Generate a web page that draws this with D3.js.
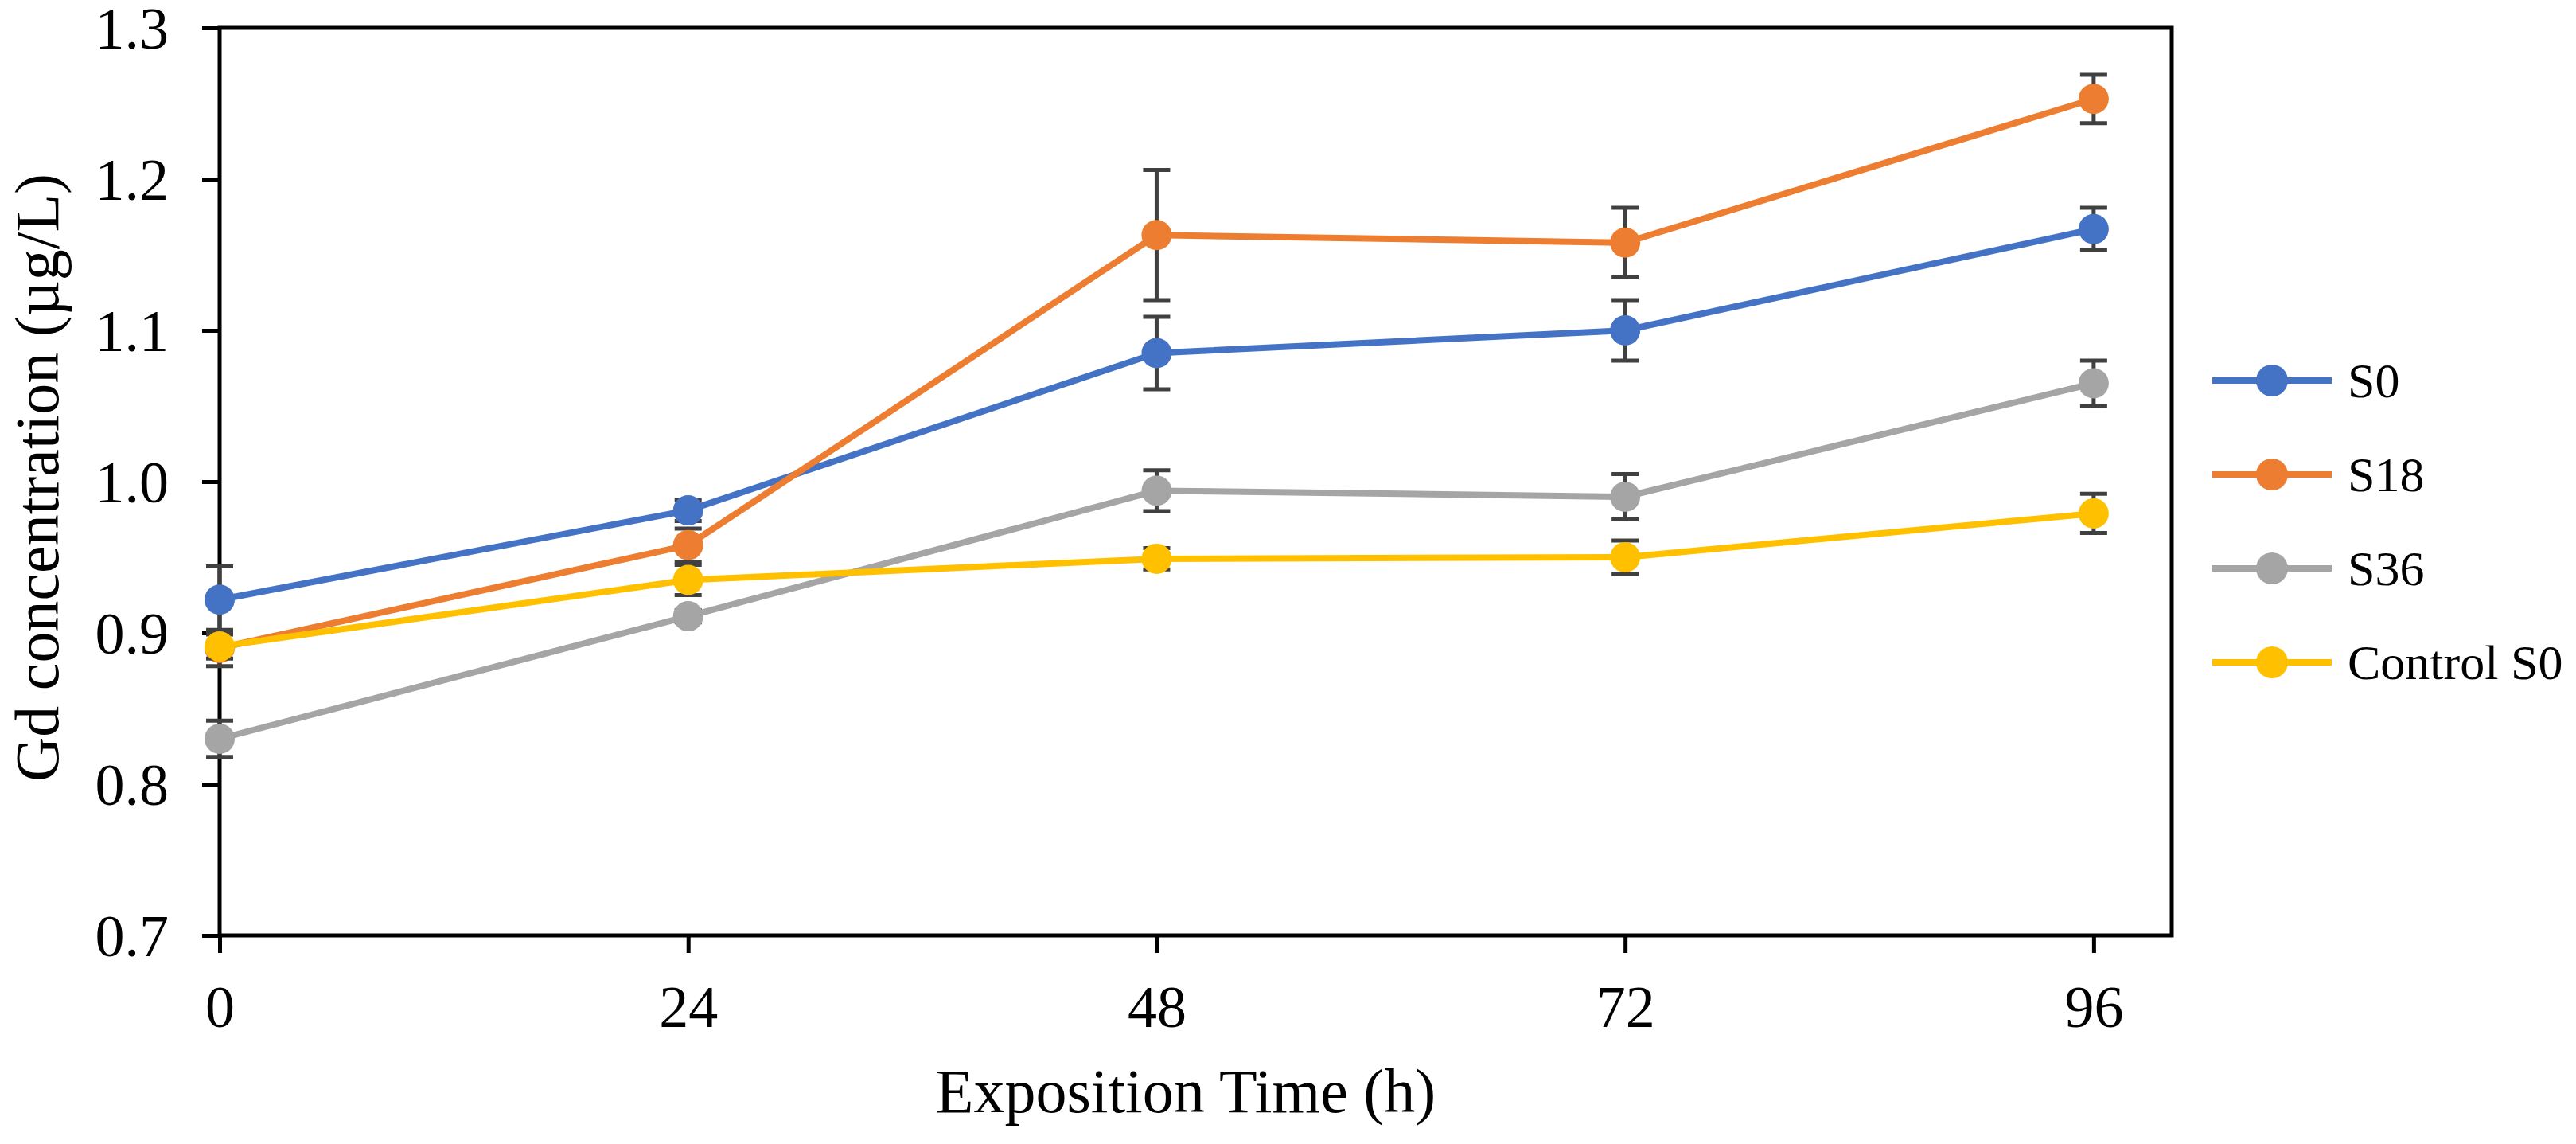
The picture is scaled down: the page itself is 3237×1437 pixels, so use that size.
<!DOCTYPE html>
<html>
<head>
<meta charset="utf-8">
<script src="https://cdn.jsdelivr.net/npm/d3@7/dist/d3.min.js"></script>
<style>
  html, body { margin: 0; padding: 0; background: #fff; }
  svg { display: block; }
  text { font-family: "Liberation Serif", "Times New Roman", serif; fill: #000; }
</style>
</head>
<body>
<svg id="chart" width="3237" height="1437"></svg>
<script>
// ---- data ----
const times = [0, 24, 48, 72, 96];
const seriesNames = ["S0", "S18", "S36", "Control S0"];
const seriesColors = ["#4472C4", "#ED7D31", "#A5A5A5", "#FFC000"];
const s0Values = [0.922, 0.981, 1.085, 1.100, 1.167];
const s0Errors = [0.022, 0.007, 0.024, 0.020, 0.014];
const s18Values = [0.890, 0.958, 1.163, 1.158, 1.253];
const s18Errors = [0.012, 0.011, 0.043, 0.023, 0.016];
const s36Values = [0.830, 0.911, 0.994, 0.990, 1.065];
const s36Errors = [0.012, 0.004, 0.0135, 0.015, 0.015];
const controlValues = [0.891, 0.935, 0.949, 0.950, 0.979];
const controlErrors = [0.008, 0.010, 0.007, 0.011, 0.013];
const yTicks = [0.7, 0.8, 0.9, 1.0, 1.1, 1.2, 1.3];
const xTicks = [0, 24, 48, 72, 96];
const xTitle = "Exposition Time (h)";
const yTitle = "Gd concentration (µg/L)";

(function () {
const allValues = [s0Values, s18Values, s36Values, controlValues];
const allErrors = [s0Errors, s18Errors, s36Errors, controlErrors];
const series = seriesNames.map((name, i) => ({
  name, color: seriesColors[i],
  points: times.map((t, j) => ({ t, v: allValues[i][j], e: allErrors[i][j] }))
}));

// ---- layout ----
const svg = d3.select("#chart");
const pLeft = 276, pRight = 2729, pTop = 35, pBottom = 1175;
const x = d3.scaleLinear().domain([0, 100]).range([pLeft, pRight]);
const y = d3.scaleLinear().domain([0.7, 1.3]).range([pBottom, pTop]);

// axes
const yAxis = d3.axisLeft(y).tickValues(yTicks).tickFormat(d3.format(".1f"))
  .tickSize(22).tickSizeOuter(0).tickPadding(42);
const gy = svg.append("g").attr("transform", `translate(${pLeft},0)`).call(yAxis);
gy.selectAll("text").style("font-size", "74px").attr("dy", "0.34em");

const xAxis = d3.axisBottom(x).tickValues(xTicks).tickFormat(d3.format("d"))
  .tickSize(22).tickSizeOuter(0).tickPadding(40);
const gx = svg.append("g").attr("transform", `translate(0,${pBottom})`).call(xAxis);
gx.selectAll("text").style("font-size", "74px");

[gx, gy].forEach(g => {
  g.select(".domain").remove();
  g.selectAll(".tick line").attr("stroke", "#000").attr("stroke-width", 5);
});

// frame
svg.append("rect")
  .attr("x", pLeft).attr("y", pTop)
  .attr("width", pRight - pLeft).attr("height", pBottom - pTop)
  .attr("fill", "none").attr("stroke", "#000").attr("stroke-width", 5);

// series
const line = d3.line().x(d => x(d.t)).y(d => y(d.v));
const capHalf = 17;
series.forEach(s => {
  const g = svg.append("g");
  g.append("path").datum(s.points)
    .attr("d", line).attr("fill", "none")
    .attr("stroke", s.color).attr("stroke-width", 8).attr("stroke-linejoin", "round");
  const eb = g.selectAll(".eb").data(s.points).enter().append("g")
    .attr("stroke", "#404040").attr("stroke-width", 5);
  eb.append("line")
    .attr("x1", d => x(d.t)).attr("x2", d => x(d.t))
    .attr("y1", d => y(d.v - d.e)).attr("y2", d => y(d.v + d.e));
  eb.append("line")
    .attr("x1", d => x(d.t) - capHalf).attr("x2", d => x(d.t) + capHalf)
    .attr("y1", d => y(d.v + d.e)).attr("y2", d => y(d.v + d.e));
  eb.append("line")
    .attr("x1", d => x(d.t) - capHalf).attr("x2", d => x(d.t) + capHalf)
    .attr("y1", d => y(d.v - d.e)).attr("y2", d => y(d.v - d.e));
  g.selectAll("circle").data(s.points).enter().append("circle")
    .attr("cx", d => x(d.t)).attr("cy", d => y(d.v)).attr("r", 19)
    .attr("fill", s.color);
});

// axis titles
svg.append("text")
  .attr("x", 1490).attr("y", 1397)
  .attr("text-anchor", "middle")
  .style("font-size", "78px")
  .text(xTitle);
svg.append("text")
  .attr("transform", "translate(73,600) rotate(-90)")
  .attr("text-anchor", "middle")
  .style("font-size", "78px")
  .text(yTitle);

// legend
const legendY = d3.scalePoint().domain(seriesNames).range([478, 832]);
const lg = svg.append("g");
series.forEach(s => {
  const ly = legendY(s.name);
  lg.append("line").attr("x1", 2780).attr("x2", 2930).attr("y1", ly).attr("y2", ly)
    .attr("stroke", s.color).attr("stroke-width", 8);
  lg.append("circle").attr("cx", 2855).attr("cy", ly).attr("r", 20).attr("fill", s.color);
  lg.append("text").attr("x", 2950).attr("y", ly).attr("dy", "0.34em")
    .style("font-size", "62px").text(s.name);
});
})();
</script>
</body>
</html>
